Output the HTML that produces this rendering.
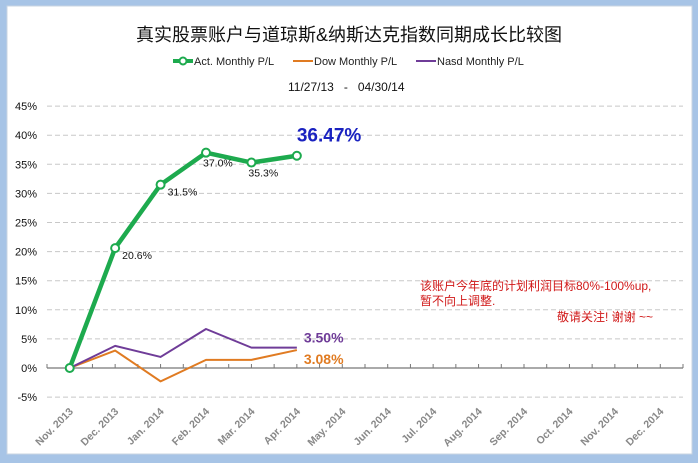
<!DOCTYPE html>
<html><head><meta charset="utf-8"><style>
html,body{margin:0;padding:0;background:#a7c4e6;width:698px;height:463px;overflow:hidden}
svg{display:block;font-family:"Liberation Sans","Noto Sans CJK SC",sans-serif}
</style></head><body>
<svg id="c" width="698" height="463">
<rect x="7" y="6" width="685" height="448" fill="#fff" stroke="#c8d4e2"/>
<text x="349" y="41" font-size="18" text-anchor="middle" fill="#111">真实股票账户与道琼斯&amp;纳斯达克指数同期成长比较图</text>
<g font-size="11" fill="#222">
<g><line x1="173" y1="61" x2="193" y2="61" stroke="#1daa4e" stroke-width="4"/><circle cx="183" cy="61" r="3.5" fill="#fff" stroke="#1daa4e" stroke-width="2"/><text x="194" y="65">Act. Monthly P/L</text></g>
<g><line x1="293" y1="61" x2="313" y2="61" stroke="#e07b22" stroke-width="2"/><text x="314" y="65">Dow Monthly P/L</text></g>
<g><line x1="416" y1="61" x2="436" y2="61" stroke="#6f3c98" stroke-width="2"/><text x="437" y="65">Nasd Monthly P/L</text></g>
</g>
<text x="288" y="91" font-size="12" fill="#111">11/27/13&#160;&#160;&#160;-&#160;&#160;&#160;04/30/14</text>
<g id="plot"></g>
<g font-size="12" fill="#d01818">
<text x="420" y="290">该账户今年底的计划利润目标80%-100%up,</text>
<text x="420" y="305">暂不向上调整.</text>
<text x="557" y="321">敬请关注! 谢谢 ~~</text>
</g>
</svg>
<script>
const categories=["Nov. 2013","Dec. 2013","Jan. 2014","Feb. 2014","Mar. 2014","Apr. 2014","May. 2014","Jun. 2014","Jul. 2014","Aug. 2014","Sep. 2014","Oct. 2014","Nov. 2014","Dec. 2014"];
const actValues=[0,20.6,31.5,37.0,35.3,36.47];
const actLabels=["","20.6%","31.5%","37.0%","35.3%",""];
const dowValues=[0,3.0,-2.3,1.4,1.4,3.08];
const nasdValues=[0,3.8,1.9,6.7,3.5,3.5];
const yTicks=[-5,0,5,10,15,20,25,30,35,40,45];
const NS="http://www.w3.org/2000/svg";
const g=document.getElementById('plot');
const L=47,R=683,Y0=368,PPU=29.1;
const bw=(R-L)/categories.length;
const x=i=>L+(i+0.5)*bw;
const y=v=>Y0-v*PPU/5;
function mk(t,a,p){const e=document.createElementNS(NS,t);for(const k in a)e.setAttribute(k,a[k]);(p||g).appendChild(e);return e;}
yTicks.forEach(v=>{
 if(v!==0){const gl=mk('line',{x1:L,x2:R,y1:y(v),y2:y(v),stroke:'#c8c8c8','stroke-dasharray':'5,3'});
 
 }
 const t=mk('text',{x:37,y:y(v)+4,'font-size':11,'text-anchor':'end',fill:'#111'});t.textContent=v+'%';
 
 
});
const ax=mk('line',{x1:L,x2:R,y1:Y0,y2:Y0,stroke:'#777','stroke-width':1.2});


for(let i=0;i<=categories.length*2;i++){const xx=L+i*bw/2;mk('line',{x1:xx,x2:xx,y1:Y0-4,y2:Y0,stroke:'#777'});}
categories.forEach((c,i)=>{
 const t=mk('text',{transform:`translate(${x(i)+4},${y(-5)+15}) rotate(-45)`,'font-size':10.5,'font-weight':'bold','text-anchor':'end',fill:'#888'});t.textContent=c;
 
 
});
function line(vals,col,w,name){
 const p=mk('polyline',{points:vals.map((v,i)=>x(i)+','+y(v)).join(' '),fill:'none',stroke:col,'stroke-width':w,'stroke-linejoin':'round'});
 
 
}
line(dowValues,'#e07b22',2,'dow-line');
line(nasdValues,'#6f3c98',2,'nasd-line');
line(actValues,'#1daa4e',4.5,'act-line');
actValues.forEach((v,i)=>{
 const c=mk('circle',{cx:x(i),cy:y(v),r:4,fill:'#fff',stroke:'#1daa4e','stroke-width':2});
 
 
 if(actLabels[i]){const t=mk('text',{x:x(i)+(i<3?7:-3),y:y(v)+(i<3?11:14),'font-size':10.5,fill:'#111'});t.textContent=actLabels[i];
 
 }
});
const n=actValues.length-1;
function big(txt,xx,yy,col,fs,name){const t=mk('text',{x:xx,y:yy,'font-size':fs,'font-weight':'bold',fill:col});t.textContent=txt;
 
 }
big(actValues[n].toFixed(2)+'%',x(n),y(actValues[n])-14,'#1a22c0',19,'act-final-value');
big(nasdValues[n].toFixed(2)+'%',x(n)+7,y(nasdValues[n])-5,'#6f3c98',14,'nasd-final-value');
big(dowValues[n].toFixed(2)+'%',x(n)+7,y(dowValues[n])+14,'#e07b22',14,'dow-final-value');
</script>
</body></html>
